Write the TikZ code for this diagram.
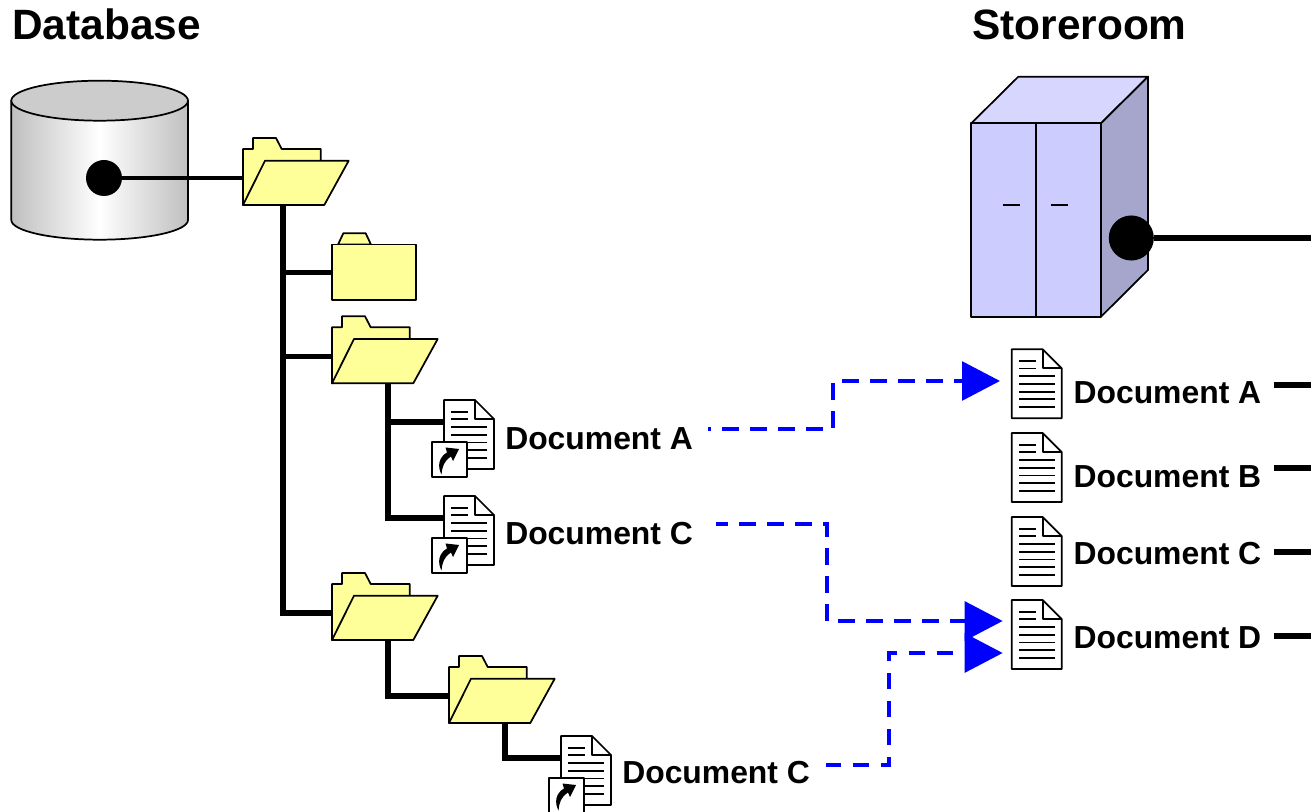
\documentclass[tikz,border=0pt]{standalone}
\usepackage{fontspec}
\setmainfont{Liberation Sans}
\usetikzlibrary{arrows.meta}
\definecolor{folderyellow}{HTML}{FFFF99}
\definecolor{cabfront}{HTML}{CCCCFF}
\definecolor{cabtop}{HTML}{D6D6FF}
\definecolor{cabside}{HTML}{A6A6CC}
\definecolor{linkblue}{HTML}{0000FF}
\tikzset{
  outline/.style={draw=black,line width=1.3pt,line join=round},
  thinrule/.style={draw=black,line width=1.25pt},
  title/.style={inner sep=0pt,anchor=base west,font=\bfseries\fontsize{31.8}{34}\selectfont},
  doclabel/.style={inner sep=0pt,anchor=base west,font=\bfseries\fontsize{23.9}{26}\selectfont},
  pipe/.style={draw=black,line width=4.2pt},
  branch/.style={draw=black,line width=3.9pt},
  stub/.style={draw=black,line width=4.4pt},
  link/.style={draw=linkblue,line width=3pt,dash pattern=on 12.5pt off 8.5pt,
    -{Triangle[length=28.5pt,width=29pt]}},
  blob/.style={circle,fill=black,inner sep=0pt},
  pics/openfolder/.style={code={
    \draw[outline,fill=folderyellow] (0,0) -- (0,-56) -- (10,-56) -- (10,-67) -- (33,-67)
      -- (38.7,-56) -- (77.7,-56) -- (77.7,-40) -- (0,0) -- cycle;
    \draw[outline,fill=folderyellow] (0,0) -- (22,-44.3) -- (105.7,-44.3) -- (81.3,0) -- cycle;
    \coordinate (-west) at (0,-27);
    \coordinate (-trunk) at (56,0);
  }},
  pics/closedfolder/.style={code={
    \draw[outline,fill=folderyellow] (6,-55.7) -- (11.3,-67) -- (33.7,-67) -- (39,-55.7) -- cycle;
    \draw[outline,fill=folderyellow] (0,0) rectangle (84,-55.7);
    \coordinate (-west) at (0,-28);
  }},
  pics/docicon/.style={code={
    \draw[outline,fill=white] (0,0) -- (31,0) -- (50,19) -- (50,69) -- (0,69) -- cycle;
    \draw[outline] (31,0) -- (31,19) -- (50,19);
    \draw[thinrule] (7.3,11.7) -- (24.3,11.7);
    \draw[thinrule] (7.3,19.3) -- (24.3,19.3);
    \draw[thinrule] (7.3,26.7) -- (43,26.7);
    \draw[thinrule] (7.3,34.7) -- (43,34.7);
    \draw[thinrule] (7.3,42.4) -- (43,42.4);
    \draw[thinrule] (7.3,50) -- (43,50);
    \draw[thinrule] (7.3,57.7) -- (43,57.7);
    \coordinate (-west) at (0,22);
  }},
  pics/linkdoc/.style={code={
    \pic (-page) at (0,0) {docicon};
    \draw[outline,fill=white] (-12,42.3) rectangle (23.3,77.3);
    \fill[black] (-2.5,74.5) .. controls (-7,66) and (-5,57) .. (3,52.5) -- (1.5,47.5)
      -- (15,49) -- (9,61) -- (7,56.5) .. controls (0,61) and (-2,67) .. (-2.5,74.5) -- cycle;
    \coordinate (-west) at (0,22);
  }},
  pics/cabinet/.style={code={
    \draw[outline,fill=cabtop] (971.3,123.3) -- (1018.3,76.7) -- (1148,76.7) -- (1101,123.3) -- cycle;
    \draw[outline,fill=cabside] (1101,123.3) -- (1148,76.7) -- (1148,270) -- (1101,316.7) -- cycle;
    \draw[outline,fill=cabfront] (971.3,123.3) rectangle (1101,316.7);
    \draw[outline] (1035.7,123.3) -- (1035.7,316.7);
    \draw[thinrule] (1003.3,204.7) -- (1020,204.7);
    \draw[thinrule] (1051,204.7) -- (1068.3,204.7);
  }},
}
\begin{document}
\begin{tikzpicture}[x=0.75pt,y=-0.75pt]
\useasboundingbox (0,0) rectangle (1311,812);
\node[title] (dbtitle) at (12,39.5) {Database};
\node[title] (storetitle) at (972,39.5) {Storeroom};

\path[outline,left color=black!25,right color=black!25,middle color=white]
  (11.3,100.7) -- (11.3,220) arc[start angle=180,end angle=0,x radius=88.35,y radius=19.7]
  -- (188,100.7) -- cycle;
\draw[outline,fill=black!20] (99.65,100.7) ellipse[x radius=88.35,y radius=20];
\node[blob,minimum size=27pt] (dbdot) at (104,178) {};

\pic (rootf) at (243,205) {openfolder};
\pic (subf) at (332,300.3) {closedfolder};
\pic (af) at (332,383.3) {openfolder};
\pic (bf) at (332,640) {openfolder};
\pic (cf) at (449,723) {openfolder};
\coordinate (rootout) at (282.7,205);

\pic (la) at (444,400) {linkdoc};
\pic (lc) at (444,496) {linkdoc};
\pic (ld) at (561,736) {linkdoc};

\draw[line width=3pt] (dbdot) -- (rootf-west);
\draw[pipe] (rootout) |- (bf-west);
\draw[branch] (rootout) |- (subf-west);
\draw[branch] (rootout) |- (af-west);
\draw[pipe] (af-trunk) |- (lc-west);
\draw[branch] (af-trunk) |- (la-west);
\draw[pipe] (bf-trunk) |- (cf-west);
\draw[pipe] (cf-trunk) |- (ld-west);

\node[doclabel] (lbla) at (505,449.7) {Document A};
\node[doclabel] (lblc) at (505,544.7) {Document C};
\node[doclabel] (lbld) at (622,783.3) {Document C};

\pic at (0,0) {cabinet};
\node[blob,minimum size=33.8pt] (storedot) at (1131.3,238) {};
\coordinate (storeend) at (1311,238);
\draw[pipe] (storedot) -- (storeend);

\pic (da) at (1011.7,349.3) {docicon};
\pic (db) at (1011.7,433) {docicon};
\pic (dc) at (1011.7,517) {docicon};
\pic (dd) at (1011.7,600) {docicon};
\node[doclabel] (lblA) at (1073.3,403.7) {Document A};
\node[doclabel] (lblB) at (1073.3,487.7) {Document B};
\node[doclabel] (lblC) at (1073.3,564.7) {Document C};
\node[doclabel] (lblD) at (1073.3,648) {Document D};

\coordinate (sA) at (1274,385);
\coordinate (eA) at (1311,385);
\coordinate (sB) at (1274,468);
\coordinate (eB) at (1311,468);
\coordinate (sC) at (1274,552);
\coordinate (eC) at (1311,552);
\coordinate (sD) at (1274,636);
\coordinate (eD) at (1311,636);
\draw[stub] (sA) -- (eA);
\draw[stub] (sB) -- (eB);
\draw[stub] (sC) -- (eC);
\draw[stub] (sD) -- (eD);

\coordinate (froma) at (708,429);
\coordinate (bendA) at (833,405);
\coordinate (toa) at (1000,381);
\coordinate (fromc) at (716,524);
\coordinate (bendc) at (827,570);
\coordinate (tod) at (1002.7,621);
\coordinate (fromd) at (826,765);
\coordinate (bendd) at (889,710);
\coordinate (tod2) at (1002.7,653);
\draw[link,dash phase=10.5pt] (froma) -| (bendA) |- (toa);
\draw[link,dash phase=3.5pt] (fromc) -| (bendc) |- (tod);
\draw[link,dash phase=1pt] (fromd) -| (bendd) |- (tod2);
\end{tikzpicture}
\end{document}
